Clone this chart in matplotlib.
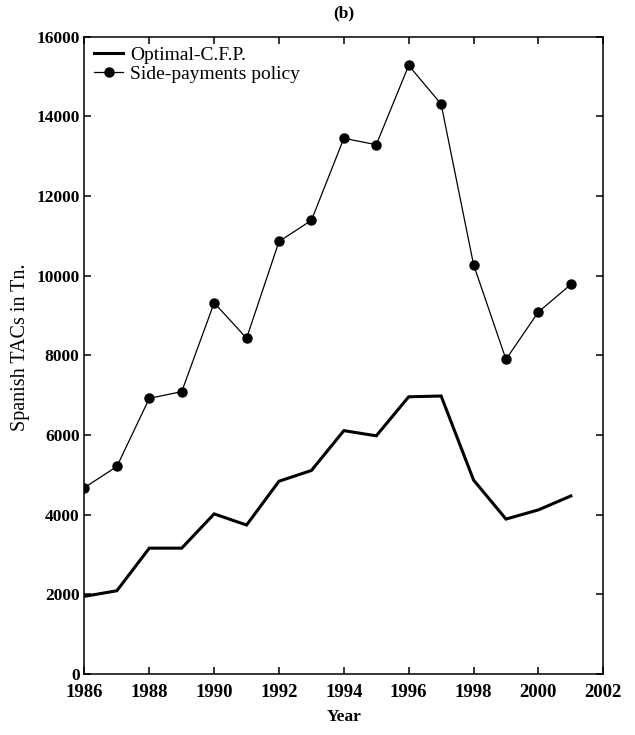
import matplotlib.pyplot as plt

# Data
years = [1986, 1987, 1988, 1989, 1990, 1991, 1992, 1993,
         1994, 1995, 1996, 1997, 1998, 1999, 2000, 2001]
optimal_cfp = [1950, 2090, 3160, 3160, 4020, 3740, 4840, 5110,
               6110, 5980, 6960, 6980, 4870, 3890, 4120, 4470]
side_payments = [4680, 5210, 6920, 7090, 9320, 8430, 10860, 11390,
                 13450, 13290, 15280, 14310, 10280, 7900, 9090, 9780]
x_ticks = [1986, 1988, 1990, 1992, 1994, 1996, 1998, 2000, 2002]
y_ticks = [0, 2000, 4000, 6000, 8000, 10000, 12000, 14000, 16000]

plt.rcParams['font.family'] = ['Liberation Serif', 'DejaVu Serif']

fig = plt.figure(figsize=(6.35, 7.35), dpi=100)
ax = fig.add_axes([0.133, 0.083, 0.817, 0.867])

ax.plot(years, optimal_cfp, color='black', lw=2.2, label='Optimal-C.F.P.',
        solid_joinstyle='miter')
ax.plot(years, side_payments, color='black', lw=0.9, marker='o', ms=6.5,
        label='Side-payments policy')

ax.set_xlim(1986, 2002)
ax.set_ylim(0, 16000)
ax.set_xticks(x_ticks)
ax.set_yticks(y_ticks)
ax.tick_params(direction='in', length=5, width=1.1, top=True, right=True,
               labelsize=12.5)
ax.tick_params(axis='x', pad=7, labelsize=13.5)
for lab in ax.get_yticklabels() + ax.get_xticklabels():
    lab.set_fontweight('bold')
for s in ax.spines.values():
    s.set_linewidth(1.1)

ax.set_xlabel('Year', fontsize=12.5, fontweight='bold', labelpad=6)
ax.set_ylabel('Spanish TACs in Tn.', fontsize=14.5, labelpad=4)
ax.yaxis.set_label_coords(-0.105, 0.513)
ax.set_title('(b)', fontsize=12.5, fontweight='bold', pad=14)

ax.legend(loc='upper left', frameon=False, fontsize=14, handlelength=1.5,
          handletextpad=0.35, labelspacing=0.05, borderaxespad=0.3,
          borderpad=0.2)

fig.savefig('out.png', dpi=100)
